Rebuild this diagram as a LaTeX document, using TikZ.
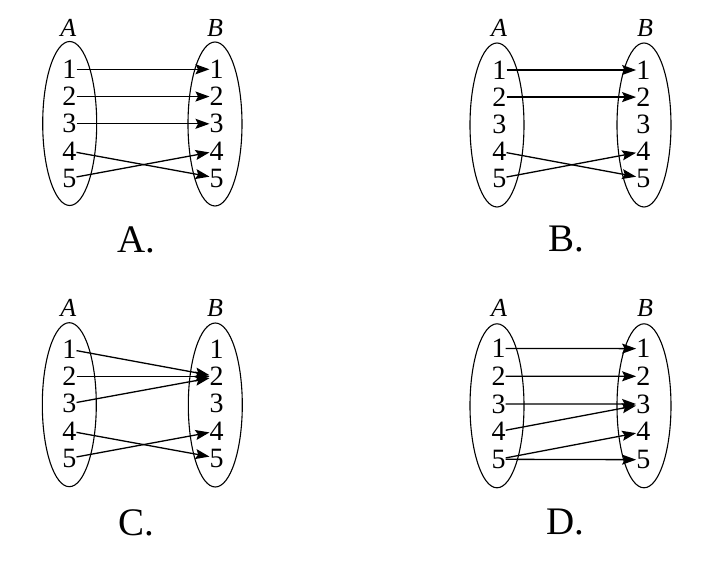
\documentclass[tikz,border=0pt]{standalone}
\usepackage{fontspec}
\setmainfont{Liberation Serif}
\usetikzlibrary{arrows.meta,shapes.geometric}
\begin{document}
\begin{tikzpicture}[x=1pt,y=-1pt,
  setell/.style={draw, line width=1.1pt, ellipse, minimum width=54pt, minimum height=164pt, inner sep=0pt},
  digit/.style={font=\fontsize{28}{28}\selectfont, inner sep=0pt},
  setlbl/.style={font=\fontsize{26}{26}\selectfont\itshape, inner sep=0pt},
  caplbl/.style={font=\fontsize{39}{39}\selectfont, inner sep=0pt},
  arr/.style={line width=1.3pt, -{Stealth[length=14pt,width=10pt,inset=2.5pt]}}]
\useasboundingbox (0,0) rectangle (721,561);

% ---------- Panel A ----------
\node[setell] (AeA) at (69.7,123.5) {};
\node[setell] (AeB) at (215,124) {};
\node[setlbl] (AlA) at (68.3,28) {A};
\node[setlbl] (AlB) at (215,28) {B};
\foreach \i in {1,...,5}{
  \node[digit] (Aa\i) at (69.3,{69.3+27.25*(\i-1)}) {\i};
  \node[digit] (Ab\i) at (216.7,{69.3+27.25*(\i-1)}) {\i};
}
\node[caplbl] (AC) at (136.7,240) {A.};
\draw[arr] ([xshift=7.4]Aa1) -- ([xshift=-11.7]Ab1);
\draw[arr] ([xshift=7.4]Aa2) -- ([xshift=-11.7]Ab2);
\draw[arr] ([xshift=7.4]Aa3) -- ([xshift=-11.7]Ab3);
\draw[arr] ([xshift=10.7,yshift=4.3]Aa4) -- ([xshift=-11.7,yshift=10]Ab5);
\draw[arr] ([xshift=12.4,yshift=1.6]Aa5) -- ([xshift=-13.7,yshift=-2]Ab4);

% ---------- Panel B ----------
\node[setell] (BeA) at (497,125) {};
\node[setell] (BeB) at (644,125) {};
\node[setlbl] (BlA) at (499,28) {A};
\node[setlbl] (BlB) at (645,28) {B};
\foreach \i in {1,...,5}{
  \node[digit] (Ba\i) at (499.3,{70+27.1*(\i-1)}) {\i};
  \node[digit] (Bb\i) at (643.3,{70+27.1*(\i-1)}) {\i};
}
\node[caplbl] (BC) at (566,239) {B.};
\draw[arr] ([xshift=7.4]Ba1) -- ([xshift=-8.3]Bb1);
\draw[arr] ([xshift=7.4]Ba2) -- ([xshift=-8.3]Bb2);
\draw[arr] ([xshift=9,yshift=4.7]Ba4) -- ([xshift=-10,yshift=8.4]Bb5);
\draw[arr] ([xshift=7.4]Ba5) -- ([xshift=-10,yshift=-2.6]Bb4);

% ---------- Panel C ----------
\node[setell] (CeA) at (69.3,404.7) {};
\node[setell] (CeB) at (215.3,405) {};
\node[setlbl] (ClA) at (68.3,308) {A};
\node[setlbl] (ClB) at (215,308) {B};
\foreach \i in {1,...,5}{
  \node[digit] (Ca\i) at (69.3,{349.3+27.25*(\i-1)}) {\i};
  \node[digit] (Cb\i) at (216.7,{349.3+27.25*(\i-1)}) {\i};
}
\node[caplbl] (CC) at (136,523) {C.};
\draw[arr] ([xshift=7.4]Ca1) -- ([xshift=-13.4,yshift=5]Cb2);
\draw[arr] ([xshift=8.7]Ca2) -- ([xshift=-13.4]Cb2);
\draw[arr] ([xshift=8.7,yshift=-3]Ca3) -- ([xshift=-13.4,yshift=-6.7]Cb2);
\draw[arr] ([xshift=12.4,yshift=4.3]Ca4) -- ([xshift=-13.4,yshift=9]Cb5);
\draw[arr] ([xshift=8.7,yshift=0.6]Ca5) -- ([xshift=-14,yshift=-2.3]Cb4);

% ---------- Panel D ----------
\node[setell] (DeA) at (497,405.8) {};
\node[setell] (DeB) at (644,405.8) {};
\node[setlbl] (DlA) at (499,308) {A};
\node[setlbl] (DlB) at (645,308) {B};
\foreach \i in {1,...,5}{
  \node[digit] (Da\i) at (498.5,{348.5+27.7*(\i-1)}) {\i};
  \node[digit] (Db\i) at (643.3,{348.5+27.7*(\i-1)}) {\i};
}
\node[caplbl] (DC) at (565,522.5) {D.};
\draw[arr] ([xshift=8,yshift=-2.2]Da1) -- ([xshift=-11.6,yshift=-2.2]Db1);
\draw[arr] ([xshift=7,yshift=-2.1]Da2) -- ([xshift=-11.6,yshift=-2.1]Db2);
\draw[arr] ([xshift=7,yshift=-2.1]Da3) -- ([xshift=-11.6,yshift=-2.1]Db3);
\draw[arr] ([xshift=7,yshift=-5.7]Da4) -- ([xshift=-11.6,yshift=-12.8]Db3);
\draw[arr] ([xshift=7,yshift=-1.4]Da5) -- ([xshift=-12.6,yshift=-3.4]Db4);
\draw[arr] ([xshift=7,yshift=-7.4]Da5) -- ([xshift=-11.6,yshift=-7.4]Db5);
\end{tikzpicture}
\end{document}
